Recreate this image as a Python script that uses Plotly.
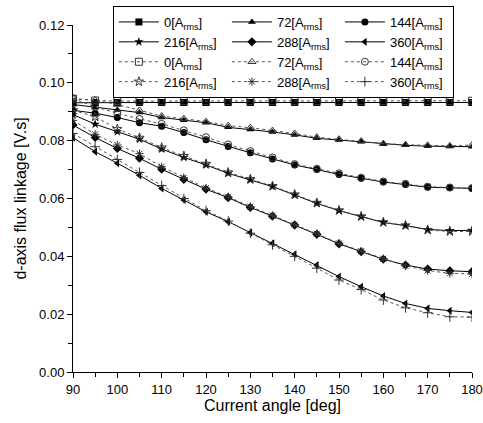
import plotly.graph_objects as go

# current angle [deg]
angle = [90, 95, 100, 105, 110, 115, 120, 125, 130, 135,
         140, 145, 150, 155, 160, 165, 170, 175, 180]

# solid (filled markers) series
s0 = [0.0931, 0.0932, 0.0932, 0.0932, 0.0932, 0.0932, 0.0932, 0.0932, 0.0932, 0.0932,
      0.0932, 0.0932, 0.0932, 0.0932, 0.0932, 0.0932, 0.0932, 0.0932, 0.0932]
s72 = [0.0925, 0.0915, 0.0906, 0.0897, 0.0880, 0.0871, 0.0862, 0.0846, 0.0839, 0.0830,
       0.0820, 0.0808, 0.0802, 0.0796, 0.0788, 0.0784, 0.0781, 0.0780, 0.0779]
s144 = [0.0905, 0.0895, 0.0880, 0.0862, 0.0850, 0.0828, 0.0803, 0.0780, 0.0758, 0.0737,
        0.0716, 0.0700, 0.0683, 0.0670, 0.0657, 0.0648, 0.0639, 0.0637, 0.0635]
s216 = [0.0890, 0.0857, 0.0831, 0.0805, 0.0771, 0.0742, 0.0716, 0.0687, 0.0664, 0.0641,
        0.0612, 0.0583, 0.0558, 0.0537, 0.0517, 0.0506, 0.0493, 0.0489, 0.0490]
s288 = [0.0854, 0.0811, 0.0773, 0.0739, 0.0701, 0.0666, 0.0632, 0.0603, 0.0569, 0.0539,
        0.0508, 0.0476, 0.0443, 0.0416, 0.0390, 0.0370, 0.0356, 0.0350, 0.0347]
s360 = [0.0810, 0.0762, 0.0722, 0.0680, 0.0635, 0.0595, 0.0554, 0.0520, 0.0482, 0.0445,
        0.0407, 0.0370, 0.0330, 0.0295, 0.0263, 0.0237, 0.0220, 0.0212, 0.0206]

# dotted (hollow markers) series
h0 = [0.0945, 0.0939, 0.0937, 0.0937, 0.0937, 0.0937, 0.0937, 0.0937, 0.0937, 0.0937,
      0.0937, 0.0937, 0.0937, 0.0937, 0.0937, 0.0937, 0.0937, 0.0937, 0.0938]
h72 = [0.0945, 0.0940, 0.0925, 0.0905, 0.0885, 0.0876, 0.0866, 0.0852, 0.0845, 0.0835,
       0.0825, 0.0812, 0.0805, 0.0799, 0.0790, 0.0786, 0.0784, 0.0782, 0.0785]
h144 = [0.0946, 0.0917, 0.0895, 0.0875, 0.0858, 0.0836, 0.0812, 0.0787, 0.0764, 0.0742,
        0.0719, 0.0703, 0.0687, 0.0672, 0.0659, 0.0651, 0.0641, 0.0638, 0.0636]
h216 = [0.0905, 0.0883, 0.0840, 0.0810, 0.0776, 0.0747, 0.0720, 0.0690, 0.0667, 0.0643,
        0.0614, 0.0585, 0.0559, 0.0538, 0.0518, 0.0507, 0.0491, 0.0486, 0.0486]
h288 = [0.0870, 0.0822, 0.0785, 0.0755, 0.0710, 0.0672, 0.0636, 0.0606, 0.0572, 0.0541,
        0.0510, 0.0478, 0.0445, 0.0418, 0.0392, 0.0367, 0.0351, 0.0341, 0.0339]
h360 = [0.0825, 0.0779, 0.0735, 0.0690, 0.0645, 0.0600, 0.0558, 0.0522, 0.0480, 0.0440,
        0.0400, 0.0359, 0.0318, 0.0285, 0.0249, 0.0222, 0.0205, 0.0191, 0.0190]

currents = ["0", "72", "144", "216", "288", "360"]
solid = [s0, s72, s144, s216, s288, s360]
hollow = [h0, h72, h144, h216, h288, h360]
solid_sym = ["square", "triangle-up", "circle", "star", "diamond", "triangle-left"]
hollow_sym = ["square-open", "triangle-up-open", "circle-open", "star-open",
              "asterisk-open", "cross-thin-open"]

fig = go.Figure()

for cur, ys, sym in zip(currents, solid, solid_sym):
    fig.add_trace(go.Scatter(
        x=angle, y=ys, mode="lines+markers",
        name=f"{cur}[A<sub>rms</sub>]",
        line=dict(color="black", width=1),
        marker=dict(symbol=sym, size=7, color="black")
    ))

for cur, ys, sym in zip(currents, hollow, hollow_sym):
    fig.add_trace(go.Scatter(
        x=angle, y=ys, mode="lines+markers",
        name=f"{cur}[A<sub>rms</sub>]",
        line=dict(color="#555555", width=1, dash="dot"),
        marker=dict(symbol=sym, size=7, color="#333333",
                    line=dict(color="#333333", width=1))
    ))

# top margin kept small so the legend (above the axes) sits inside the paper area
fig.update_layout(
    width=483, height=423,
    margin=dict(l=73, r=11, t=6, b=51),
    plot_bgcolor="white", paper_bgcolor="white",
    font=dict(family="Arial, Liberation Sans, sans-serif", color="black", size=13),
    legend=dict(
        orientation="h", x=0.1, y=1, xanchor="left", yanchor="top",
        bordercolor="black", borderwidth=1, bgcolor="white",
        entrywidth=58, entrywidthmode="pixels", itemwidth=40,
        font=dict(size=13), traceorder="normal"
    ),
    xaxis=dict(
        range=[90, 180], dtick=10, showline=True, linecolor="black", linewidth=1,
        ticks="outside", ticklen=5, tickcolor="black", showgrid=False, zeroline=False,
        automargin=False, ticklabeloverflow="allow",
        minor=dict(ticks="outside", ticklen=4, dtick=5, tickcolor="black"),
        title=dict(text="Current angle [deg]", font=dict(size=16), standoff=4),
        tickfont=dict(size=13)
    ),
    yaxis=dict(
        range=[0, 0.12], dtick=0.02, tickformat=".2f", showline=True,
        domain=[0, 347 / 366], automargin=False,
        linecolor="black", linewidth=1, ticks="outside", ticklen=5,
        tickcolor="black", showgrid=False, zeroline=False,
        minor=dict(ticks="outside", ticklen=4, dtick=0.01, tickcolor="black"),
        title=dict(text="d-axis flux linkage [V.s]", font=dict(size=16), standoff=8),
        tickfont=dict(size=13)
    ),
)

# drop the browser's default page margin so the figure sits at the window's corner
fig.write_html("out.html", config={"displayModeBar": False},
               post_script="document.body.style.margin='0';")
